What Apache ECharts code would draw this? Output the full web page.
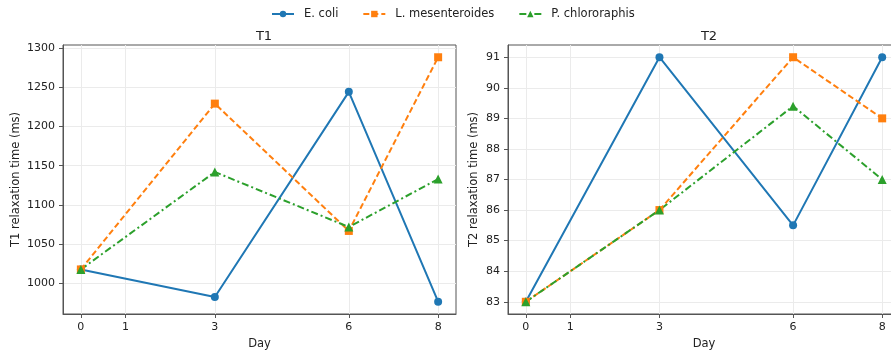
<!DOCTYPE html>
<html>
<head>
<meta charset="utf-8">
<script src="https://cdn.jsdelivr.net/npm/echarts@6/dist/echarts.min.js"></script>
<style>
  html, body { margin: 0; padding: 0; background: #fff; }
  #chart { width: 891px; height: 355px; }
</style>
</head>
<body>
<div id="chart"></div>
<script>
// Sampling days and measured relaxation times per organism
const days = [0, 3, 6, 8];
const dayTicks = [0, 1, 3, 6, 8];
const seriesNames = ['E. coli', 'L. mesenteroides', 'P. chlororaphis'];

const t1EColi = [1018, 983, 1244, 977];
const t1LMes = [1018, 1229, 1067, 1288];
const t1PChl = [1018, 1142, 1072, 1133];

const t2EColi = [83, 91, 85.5, 91];
const t2LMes = [83, 86, 91, 89];
const t2PChl = [83, 86, 89.4, 87];

const t1Ticks = [1000, 1050, 1100, 1150, 1200, 1250, 1300];
const t2Ticks = [83, 84, 85, 86, 87, 88, 89, 90, 91];

const colors = ['#1f77b4', '#ff7f0e', '#2ca02c'];
const symbols = ['circle', 'rect', 'triangle'];
const symbolSizes = [8, 8, 9];
const dashes = ['solid', [6, 3], [7, 3, 2, 3]];
const font = 'DejaVu Sans';
const spine = '#555';

const chart = echarts.init(document.getElementById('chart'), null, { renderer: 'canvas' });

function pairs(values) {
  return days.map((d, i) => [d, values[i]]);
}

function xAxis(gridIndex) {
  return {
    type: 'value', gridIndex, min: -0.4, max: 8.4,
    name: 'Day', nameLocation: 'middle', nameGap: 22.5,
    nameTextStyle: { fontFamily: font, fontSize: 11.5, color: '#222' },
    axisLine: { show: true, onZero: false, lineStyle: { color: spine, width: 1 } },
    axisTick: { show: true, customValues: dayTicks, length: 4, lineStyle: { color: spine } },
    axisLabel: { customValues: dayTicks, fontFamily: font, fontSize: 11, color: '#222', margin: 8 },
    splitLine: { show: true, lineStyle: { color: '#ebebeb', width: 1 } }
  };
}

function yAxis(gridIndex, name, min, max, ticks, gap) {
  return {
    type: 'value', gridIndex, min, max,
    name, nameLocation: 'middle', nameGap: gap,
    nameTextStyle: { fontFamily: font, fontSize: 11.5, color: '#222' },
    axisLine: { show: true, onZero: false, lineStyle: { color: spine, width: 1 } },
    axisTick: { show: true, customValues: ticks, length: 4, lineStyle: { color: spine } },
    axisLabel: { customValues: ticks, fontFamily: font, fontSize: 11, color: '#222', margin: 8,
      formatter: v => String(v) },
    splitLine: { show: true, lineStyle: { color: '#ebebeb', width: 1 } }
  };
}

function lineSeries(i, values, axisIndex) {
  return {
    name: seriesNames[i], type: 'line',
    xAxisIndex: axisIndex, yAxisIndex: axisIndex,
    data: pairs(values),
    symbol: symbols[i], symbolSize: symbolSizes[i],
    showAllSymbol: true,
    itemStyle: { color: colors[i] },
    lineStyle: { color: colors[i], width: 2, type: dashes[i] },
    emphasis: { disabled: true },
    animation: false
  };
}

chart.setOption({
  animation: false,
  color: colors,
  title: [
    { text: 'T1', left: 259, top: 25, textAlign: 'center',
      textStyle: { fontFamily: font, fontSize: 13, fontWeight: 'normal', color: '#222' } },
    { text: 'T2', left: 704, top: 25, textAlign: 'center',
      textStyle: { fontFamily: font, fontSize: 13, fontWeight: 'normal', color: '#222' } }
  ],
  legend: {
    top: 3, left: 266, itemGap: 24, itemWidth: 22, itemHeight: 8,
    data: seriesNames,
    textStyle: { fontFamily: font, fontSize: 11.5, color: '#222', padding: [0, 0, 0, 5] }
  },
  grid: [
    { left: 63, top: 45, width: 393, height: 269, show: true, borderColor: spine, borderWidth: 1,
      containLabel: false, outerBoundsMode: 'none' },
    { left: 508, top: 45, width: 392, height: 269, show: true, borderColor: spine, borderWidth: 1,
      containLabel: false, outerBoundsMode: 'none' }
  ],
  xAxis: [xAxis(0), xAxis(1)],
  yAxis: [
    yAxis(0, 'T1 relaxation time (ms)', 961.3, 1303.6, t1Ticks, 41),
    yAxis(1, 'T2 relaxation time (ms)', 82.6, 91.4, t2Ticks, 28)
  ],
  series: [
    lineSeries(0, t1EColi, 0), lineSeries(1, t1LMes, 0), lineSeries(2, t1PChl, 0),
    lineSeries(0, t2EColi, 1), lineSeries(1, t2LMes, 1), lineSeries(2, t2PChl, 1)
  ]
});
</script>
</body>
</html>
